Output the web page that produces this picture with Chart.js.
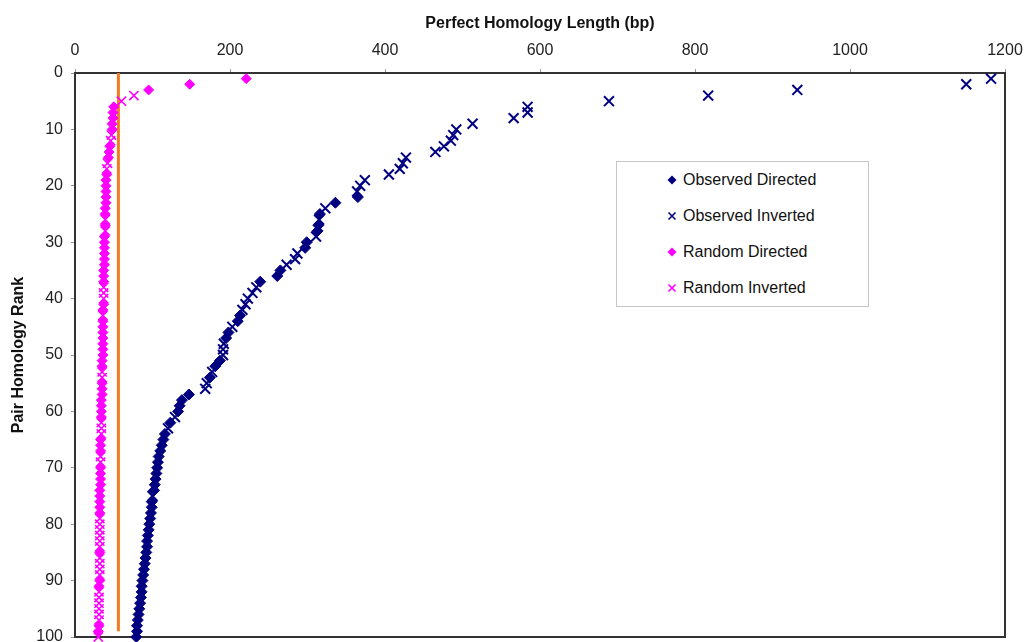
<!DOCTYPE html>
<html>
<head>
<meta charset="utf-8">
<script src="https://cdn.jsdelivr.net/npm/chart.js@4.4.1/dist/chart.umd.min.js"></script>
<style>
  html, body { margin: 0; padding: 0; background: #fff; }
  #wrap { position: relative; width: 1025px; height: 642px; }
  #legend {
    position: absolute; left: 616px; top: 161px; width: 253px; height: 146px;
    box-sizing: border-box; border: 1px solid #c6c6c6; background: #fff;
    font: 16px "Liberation Sans", Arial, sans-serif; color: #111;
  }
  .item { position: absolute; left: 50px; height: 20px; line-height: 20px; white-space: nowrap; }
  .item svg { position: absolute; left: 0; top: 5px; }
  .item span { position: absolute; left: 16px; top: 0; }
</style>
</head>
<body>
<div id="wrap">
  <canvas id="chart" width="1025" height="642"></canvas>
  <div id="legend">
    <div class="item" style="top:8px">
      <svg width="10" height="10"><polygon points="5,0.5 9.5,5 5,9.5 0.5,5" fill="#000080"/></svg>
      <span>Observed Directed</span>
    </div>
    <div class="item" style="top:44px">
      <svg width="10" height="10"><path d="M1.5,1.5 L8.5,8.5 M8.5,1.5 L1.5,8.5" stroke="#000080" stroke-width="1.6"/></svg>
      <span>Observed Inverted</span>
    </div>
    <div class="item" style="top:80px">
      <svg width="10" height="10"><polygon points="5,0.5 9.5,5 5,9.5 0.5,5" fill="#ff00ff"/></svg>
      <span>Random Directed</span>
    </div>
    <div class="item" style="top:116px">
      <svg width="10" height="10"><path d="M1.5,1.5 L8.5,8.5 M8.5,1.5 L1.5,8.5" stroke="#ff00ff" stroke-width="1.6"/></svg>
      <span>Random Inverted</span>
    </div>
  </div>
</div>
<script>
// ── Data ──────────────────────────────────────────────────────────────────────
const xTicks = [0, 200, 400, 600, 800, 1000, 1200];
const yTicks = [0, 10, 20, 30, 40, 50, 60, 70, 80, 90, 100];

const obsInvRank = [1, 2, 3, 4, 5, 6, 7, 8, 9, 10, 11, 12, 13, 14, 15, 16, 17, 18, 19, 20, 21,
  24, 26, 29, 32, 33, 34, 38, 39, 40, 41, 42, 45, 48, 49, 50, 53, 55, 56, 61, 63, 75];
const obsInvLen = [1182, 1150, 932, 817, 689, 584, 584, 566, 513, 492, 488, 485, 476, 465, 427, 423, 419, 405, 374, 368, 364,
  323, 315, 311, 287, 284, 273, 234, 229, 223, 220, 216, 203, 192, 191, 191, 177, 170, 168, 129, 120, 100];

const obsDirRank = [22, 23, 25, 27, 28, 30, 31, 35, 36, 37, 43, 44, 46, 47, 51, 52, 54, 57, 58, 59, 60, 62,
  64, 65, 66, 67, 68, 69, 70, 71, 72, 73, 74, 76, 77, 78, 79, 80, 81, 82, 83, 84, 85, 86, 87, 88, 89, 90,
  91, 92, 93, 94, 95, 96, 97, 98, 99, 100];
const obsDirLen = [365, 336, 316, 314, 313, 299, 297, 265, 261, 239, 213, 210, 198, 195, 187, 181, 174, 147, 138, 135, 133, 123,
  116, 114, 112, 110, 108, 107, 106, 105, 104, 103, 102, 99, 99, 98, 97, 96, 95, 94, 93, 93, 92, 91, 90, 89, 88, 87,
  86, 86, 85, 84, 83, 82, 81, 80, 80, 79];

const rndInvRank = [4, 5, 11, 12, 16, 17, 26, 28, 38, 39, 40, 43, 53, 54, 62, 63, 64, 68, 69,
  79, 80, 81, 82, 83, 84, 86, 87, 88, 89, 92, 93, 94, 95, 96, 97, 100];
const rndInvLen = [76, 60, 47, 46, 42, 41, 39, 39, 37, 37, 37, 36, 35, 35, 34, 34, 34, 33, 33,
  32, 32, 32, 32, 32, 32, 32, 32, 32, 32, 31, 31, 31, 31, 31, 31, 30];

const rndDirRank = [1, 2, 3, 6, 7, 8, 9, 10, 13, 14, 15, 18, 19, 20, 21, 22, 23, 24, 25, 27, 29, 30, 31, 32, 33, 34,
  35, 36, 37, 41, 42, 44, 45, 46, 47, 48, 49, 50, 51, 52, 55, 56, 57, 58, 59, 60, 61, 65, 66, 67,
  70, 71, 72, 73, 74, 75, 76, 77, 78, 85, 90, 91, 98, 99];
const rndDirLen = [221, 148, 95, 50, 49, 49, 48, 48, 45, 44, 43, 41, 40, 40, 40, 40, 40, 39, 39, 39, 38, 38, 38, 38, 38, 38,
  37, 37, 37, 37, 36, 36, 36, 36, 36, 36, 36, 36, 35, 35, 35, 35, 35, 34, 34, 34, 34, 33, 33, 33,
  33, 33, 33, 33, 32, 32, 32, 32, 32, 32, 32, 31, 31, 30];

// cutoff line
const cutoffLen = [56, 56];
const cutoffRank = [0, 99];

// ── Helpers ───────────────────────────────────────────────────────────────────
const pts = (xs, ys) => xs.map((x, i) => ({ x, y: ys[i] }));

const NAVY = '#000080';
const MAGENTA = '#ff00ff';
const ORANGE = '#f47a22';

Chart.defaults.font.family = '"Liberation Sans", Arial, sans-serif';

// right + bottom edges of the plot box
const frame = {
  id: 'frame',
  beforeDatasetsDraw(chart) {
    const { ctx, chartArea: a } = chart;
    ctx.save();
    ctx.strokeStyle = '#333';
    ctx.lineWidth = 2;
    ctx.beginPath();
    ctx.moveTo(a.right, a.top);
    ctx.lineTo(a.right, a.bottom);
    ctx.lineTo(a.left, a.bottom);
    ctx.stroke();
    ctx.restore();
  }
};

new Chart(document.getElementById('chart'), {
  type: 'scatter',
  data: {
    datasets: [
      {
        label: 'Observed Directed', data: pts(obsDirLen, obsDirRank),
        pointStyle: 'rectRot', pointRadius: 5.5, backgroundColor: NAVY, borderColor: NAVY, borderWidth: 1, clip: false,
      },
      {
        label: 'Observed Inverted', data: pts(obsInvLen, obsInvRank),
        pointStyle: 'crossRot', pointRadius: 7, borderColor: NAVY, borderWidth: 2, clip: false,
      },
      {
        label: 'Random Directed', data: pts(rndDirLen, rndDirRank),
        pointStyle: 'rectRot', pointRadius: 5, backgroundColor: MAGENTA, borderColor: MAGENTA, borderWidth: 1, clip: false,
      },
      {
        label: 'Random Inverted', data: pts(rndInvLen, rndInvRank),
        pointStyle: 'crossRot', pointRadius: 6.5, borderColor: MAGENTA, borderWidth: 1.6, clip: false,
      },
      {
        type: 'line', label: 'cutoff', data: pts(cutoffLen, cutoffRank),
        showLine: true, borderColor: ORANGE, borderWidth: 3, pointRadius: 0, fill: false,
      },
    ]
  },
  options: {
    responsive: false,
    animation: false,
    layout: { autoPadding: false, padding: { left: 0, top: 0, right: 20, bottom: 5 } },
    plugins: { legend: { display: false }, tooltip: { enabled: false } },
    scales: {
      x: {
        type: 'linear', position: 'top', min: 0, max: 1200,
        afterBuildTicks: s => { s.ticks = xTicks.map(v => ({ value: v })); },
        afterFit: s => { s.height = 73; s.paddingLeft = 0; s.paddingRight = 0; },
        ticks: { padding: 9, color: '#222', font: { size: 16 }, callback: v => String(v) },
        grid: { drawOnChartArea: false, drawTicks: true, tickLength: 4, color: '#999' },
        border: { color: '#333', width: 2 },
        title: {
          display: true, text: 'Perfect Homology Length (bp)', color: '#111',
          font: { size: 16, weight: 'bold' }, padding: { top: 14, bottom: 0 },
        },
      },
      y: {
        type: 'linear', reverse: true, min: 0, max: 100,
        afterBuildTicks: s => { s.ticks = yTicks.map(v => ({ value: v })); },
        afterFit: s => { s.width = 75; s.paddingTop = 0; s.paddingBottom = 0; },
        ticks: { padding: 8, color: '#222', font: { size: 16 }, callback: v => String(v) },
        grid: { drawOnChartArea: false, drawTicks: true, tickLength: 4, color: '#999' },
        border: { color: '#333', width: 2 },
        title: {
          display: true, text: 'Pair Homology Rank', color: '#111',
          font: { size: 16, weight: 'bold' }, padding: { top: 9, bottom: 0 },
        },
      },
    },
  },
  plugins: [frame],
});
</script>
</body>
</html>
